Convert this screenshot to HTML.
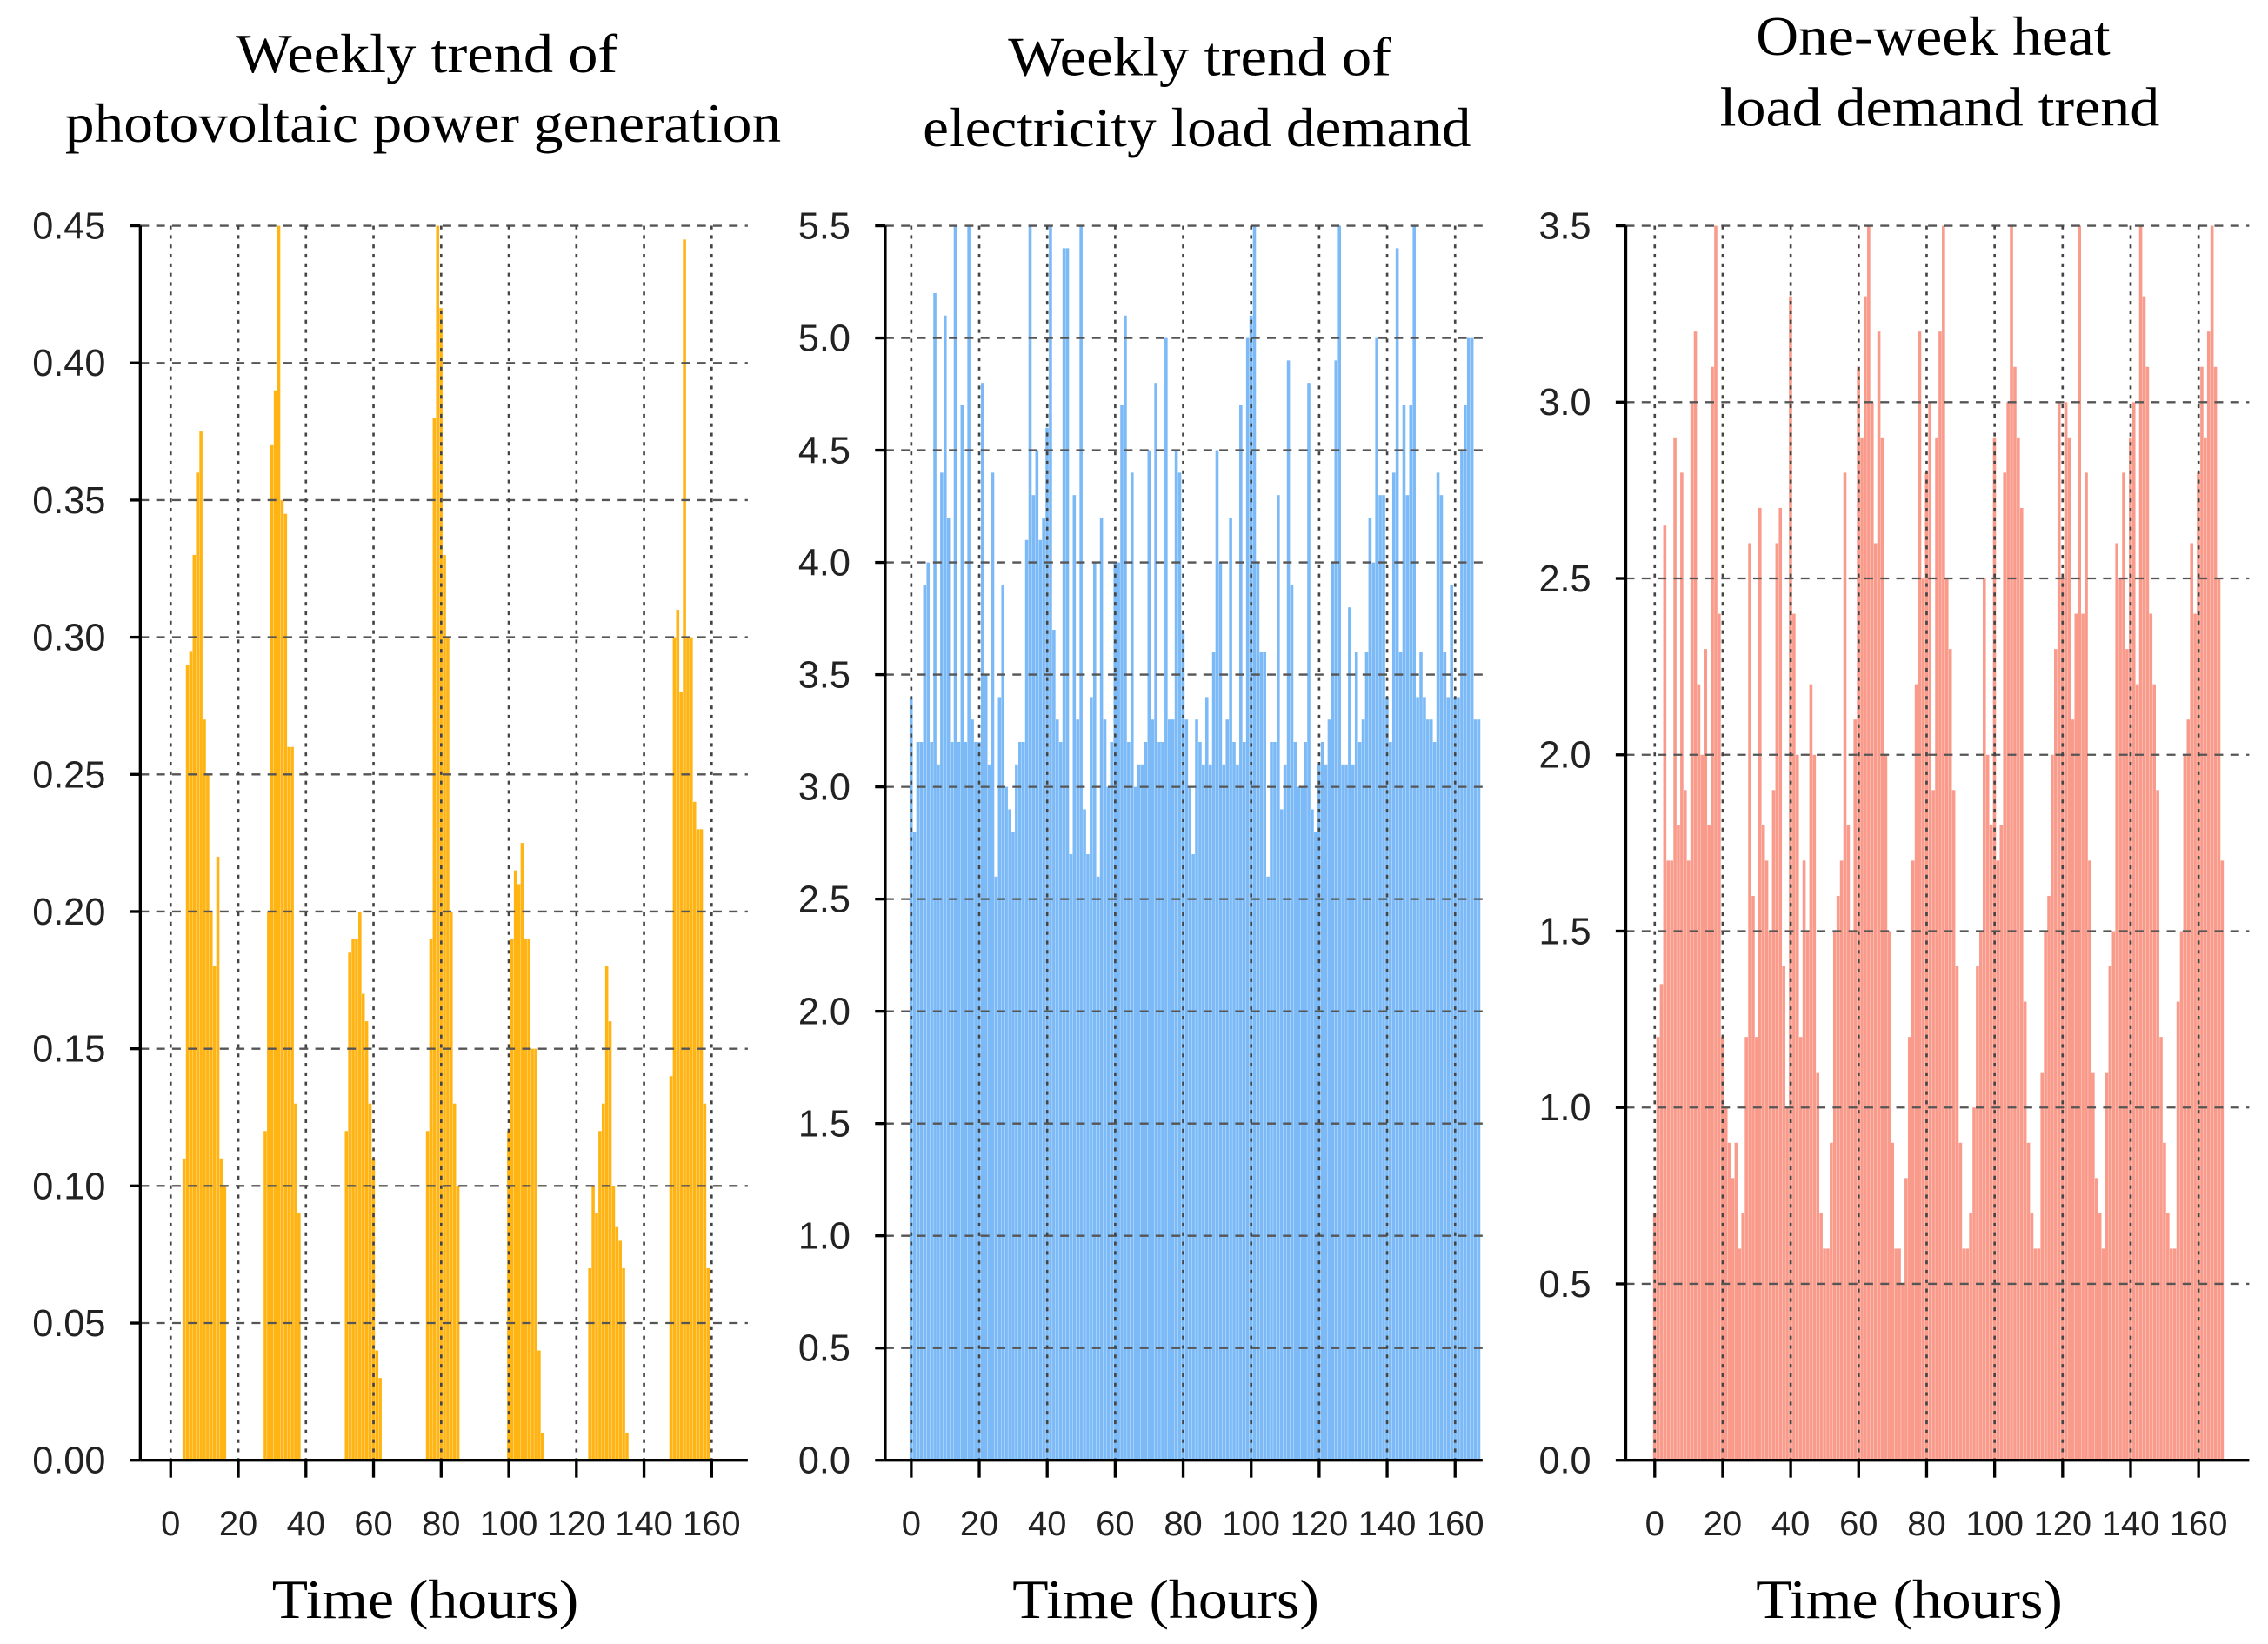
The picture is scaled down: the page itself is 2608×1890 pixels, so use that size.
<!DOCTYPE html>
<html><head><meta charset="utf-8">
<style>
html,body{margin:0;padding:0;background:#fff;}
svg{display:block;}
</style></head>
<body>
<svg id="fig" width="2608" height="1890" viewBox="0 0 1568 1136" preserveAspectRatio="none" xmlns="http://www.w3.org/2000/svg">
<text x="163" y="50" textLength="264" lengthAdjust="spacingAndGlyphs" font-family="Liberation Serif, serif" font-size="38">Weekly trend of</text>
<text x="45" y="98" textLength="495" lengthAdjust="spacingAndGlyphs" font-family="Liberation Serif, serif" font-size="38">photovoltaic power generation</text>
<text x="697" y="52" textLength="265" lengthAdjust="spacingAndGlyphs" font-family="Liberation Serif, serif" font-size="38">Weekly trend of</text>
<text x="638" y="101" textLength="379" lengthAdjust="spacingAndGlyphs" font-family="Liberation Serif, serif" font-size="38">electricity load demand</text>
<text x="1214" y="38" textLength="245" lengthAdjust="spacingAndGlyphs" font-family="Liberation Serif, serif" font-size="38">One-week heat</text>
<text x="1189" y="87" textLength="304" lengthAdjust="spacingAndGlyphs" font-family="Liberation Serif, serif" font-size="38">load demand trend</text>
</svg>
<script>
const hours = Array.from({length:168},(_,i)=>i);
const xTicks = [0,20,40,60,80,100,120,140,160];
const pvTicks = [0,0.05,0.10,0.15,0.20,0.25,0.30,0.35,0.40,0.45];
const elecTicks = [0,0.5,1.0,1.5,2.0,2.5,3.0,3.5,4.0,4.5,5.0,5.5];
const heatTicks = [0,0.5,1.0,1.5,2.0,2.5,3.0,3.5];
const pvValues = [
0,0,0,0,0.11,0.29,0.295,0.33,0.36,0.375,0.27,0.25,0.20,0.18,0.22,0.11,0.10,0,0,0,0,0,0,0,
0,0,0,0,0.12,0.20,0.37,0.39,0.45,0.35,0.345,0.26,0.26,0.13,0.09,0,0,0,0,0,0,0,0,0,
0,0,0,0,0.12,0.185,0.19,0.19,0.20,0.17,0.16,0.13,0.11,0.04,0.03,0,0,0,0,0,0,0,0,0,
0,0,0,0,0.12,0.19,0.38,0.45,0.42,0.33,0.30,0.20,0.13,0.10,0,0,0,0,0,0,0,0,0,0,
0,0,0,0,0.12,0.19,0.215,0.21,0.225,0.19,0.19,0.15,0.15,0.04,0.01,0,0,0,0,0,0,0,0,0,
0,0,0,0,0.07,0.10,0.09,0.12,0.13,0.18,0.16,0.10,0.085,0.08,0.07,0.01,0,0,0,0,0,0,0,0,
0,0,0,0,0.14,0.30,0.31,0.28,0.445,0.30,0.30,0.24,0.23,0.23,0.13,0.07,0,0,0,0,0,0,0,0];
const elecValues = [
3.4,2.8,3.2,3.2,3.9,4.0,3.2,5.2,3.1,4.4,5.1,4.2,3.2,5.5,3.2,4.7,3.2,5.5,3.3,3.2,3.2,4.8,3.5,3.1,
4.4,2.6,3.4,3.9,3.0,2.9,2.8,3.1,3.2,3.2,4.1,5.5,4.3,4.5,4.1,4.2,4.6,5.5,3.7,3.3,3.2,5.4,5.4,2.7,
4.3,3.3,5.5,2.9,2.7,3.4,4.0,2.6,4.2,3.3,3.0,3.2,4.0,4.0,4.7,5.1,3.2,4.4,3.0,3.1,3.1,3.2,4.5,3.3,
4.8,3.2,3.2,5.0,3.3,3.3,4.5,4.4,3.7,3.3,3.0,2.7,3.3,3.2,3.1,3.4,3.1,3.6,4.5,4.0,3.1,3.3,4.2,3.2,
3.1,4.7,3.2,5.0,5.1,5.5,4.0,3.6,3.6,2.6,3.2,3.2,4.3,2.9,3.1,4.9,3.9,3.2,3.0,3.0,3.2,4.8,2.9,2.8,
3.1,3.2,3.1,3.3,4.0,4.9,5.5,3.1,3.1,3.8,3.1,3.6,3.2,3.3,3.6,4.2,4.0,5.0,4.3,4.3,3.4,3.2,4.4,5.4,
3.6,4.7,4.3,4.7,5.5,3.4,3.6,3.4,3.3,3.3,3.2,4.4,4.3,3.6,3.4,3.9,3.4,3.4,4.5,4.7,5.0,5.0,3.3,3.3];
const heatValues = [
0.7,1.2,1.35,2.65,1.7,1.7,2.9,1.8,2.8,1.9,1.7,3.0,3.2,2.2,2.0,2.3,1.8,3.1,3.5,2.4,1.2,1.0,0.9,0.8,
0.9,0.6,0.7,1.2,2.6,1.6,1.2,2.7,1.8,1.7,1.5,1.9,2.6,2.7,1.4,1.0,3.3,2.4,2.0,1.2,1.7,1.5,2.2,2.0,
1.1,0.7,0.6,0.6,0.9,1.5,1.6,1.7,2.8,1.8,1.5,2.1,3.1,2.9,3.3,3.5,3.0,2.6,3.2,2.9,2.0,1.5,0.9,0.6,
0.6,0.5,0.8,1.2,1.7,2.2,3.2,2.5,2.8,3.0,1.9,2.9,3.2,3.5,2.5,2.3,1.9,1.4,0.9,0.6,0.6,0.7,1.0,1.4,
1.5,2.5,2.0,1.8,2.9,1.7,1.8,2.8,3.0,3.5,3.1,2.9,2.7,1.3,0.9,0.7,0.6,0.6,1.1,1.5,1.6,2.0,2.3,3.0,
2.5,3.0,2.9,2.1,2.4,3.5,2.4,2.8,1.7,1.1,0.8,0.7,0.6,1.1,1.4,1.5,2.6,2.5,2.8,2.3,2.9,3.0,2.2,3.5,
3.3,3.1,2.4,2.2,1.9,1.2,0.9,0.7,0.6,0.6,1.3,1.5,2.0,2.1,2.6,2.4,2.8,3.1,2.9,3.2,3.5,3.1,2.5,1.7];

const svg = document.getElementById('fig');
const NS = 'http://www.w3.org/2000/svg';
function mk(tag, attrs, parent){
  const e = document.createElementNS(NS, tag);
  for (const k in attrs) e.setAttribute(k, attrs[k]);
  (parent||svg).appendChild(e);
  return e;
}
function panel(name, axisX, x0, x160, xRight, yMax, ticks, decimals, values, color, labX){
  const top = 156, bottom = 1009;
  const g = mk('g', {});
  
  
  const xs = h => x0 + (x160 - x0) * h / 160;
  const ys = v => bottom - (bottom - top) * v / yMax;
  const bw = (x160 - x0) / 160;
  values.forEach((v, i) => {
    if (v <= 0) return;
    const r = mk('rect', {x: xs(hours[i]) - bw/2, y: ys(v), width: bw*0.92, height: bottom - ys(v), fill: color}, g);
    
    
  });
  ticks.forEach(t => {
    const y = ys(t);
    if (t > 0) {
      const l = mk('line', {x1: axisX, x2: xRight, y1: y, y2: y, stroke: '#555', 'stroke-width': 1.4, 'stroke-dasharray': '6,5'}, g);
      
      
    }
    mk('line', {x1: axisX - 7, x2: axisX, y1: y, y2: y, stroke: '#000', 'stroke-width': 2}, g);
    const tx = mk('text', {x: axisX - 24, y: y + 9, 'text-anchor': 'end', 'font-family': 'Liberation Sans, sans-serif', 'font-size': 26, fill: '#222'}, g);
    tx.textContent = t.toFixed(decimals);
    
    
  });
  xTicks.forEach(t => {
    const x = xs(t);
    const l = mk('line', {x1: x, x2: x, y1: top, y2: bottom, stroke: '#444', 'stroke-width': 1.6, 'stroke-dasharray': '2.5,4'}, g);
    
    
    mk('line', {x1: x, x2: x, y1: bottom, y2: bottom + 12, stroke: '#000', 'stroke-width': 2}, g);
    const tx = mk('text', {x: x, y: 1061, 'text-anchor': 'middle', 'font-family': 'Liberation Sans, sans-serif', 'font-size': 24, fill: '#222'}, g);
    tx.textContent = t;
    
    
  });
  const ya = mk('line', {x1: axisX, x2: axisX, y1: top, y2: bottom, stroke: '#000', 'stroke-width': 2}, g);
  
  
  const xa = mk('line', {x1: axisX, x2: xRight, y1: bottom, y2: bottom, stroke: '#000', 'stroke-width': 2}, g);
  
  
  const lab = mk('text', {x: labX, y: 1118, textLength: 212, lengthAdjust: 'spacingAndGlyphs', 'font-family': 'Liberation Serif, serif', 'font-size': 38, fill: '#000'}, g);
  lab.textContent = 'Time (hours)';
  
  
}
panel('pv', 97, 118, 492, 517, 0.45, pvTicks, 2, pvValues, '#FFB414', 188);
panel('elec', 612, 630, 1006, 1025, 5.5, elecTicks, 1, elecValues, '#7BBAF7', 700);
panel('heat', 1124, 1144, 1520, 1555, 3.5, heatTicks, 1, heatValues, '#F99A8A', 1214);
</script>
</body></html>
